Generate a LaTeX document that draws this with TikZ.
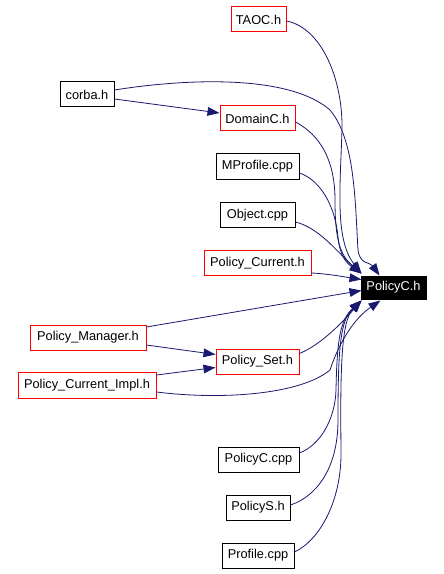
\documentclass[tikz,border=0pt]{standalone}
\usepackage{fontspec}
\setmainfont{Liberation Sans}
\usetikzlibrary{arrows.meta,calc}
\definecolor{edgeblue}{HTML}{191970}
\begin{document}
\begin{tikzpicture}[x=0.75pt,y=-0.75pt,
  box/.style={draw=black,line width=0.75pt,inner sep=0pt,minimum height=18.75pt,font=\fontsize{9.6pt}{11pt}\selectfont},
  redbox/.style={box,draw=red},
  mainbox/.style={box,fill=black,text=white,minimum height=17.25pt},
  edge/.style={draw=edgeblue,line width=0.6pt,-{Triangle[length=9pt,width=6.5pt]}}]
\useasboundingbox (0,0) rectangle (443,574);
\fill[white] (0,0) rectangle (443,574);
\node[redbox,minimum width=41.25pt] (TAOC) at (258.5,19.5) {TAOC.h};
\node[box,minimum width=40.5pt] (corba) at (87,94.5) {corba.h};
\node[redbox,minimum width=56.25pt] (DomainC) at (257.5,118.5) {DomainC.h};
\node[box,minimum width=62.25pt] (MProfile) at (257.5,166.5) {MProfile.cpp};
\node[box,minimum width=56.25pt] (Object) at (257.5,215) {Object.cpp};
\node[redbox,minimum width=80.25pt] (PCurrent) at (257.5,263) {Policy\_Current.h};
\node[mainbox,minimum width=48.75pt] (PolicyC) at (393.5,287.5) {PolicyC.h};
\node[redbox,minimum width=87pt] (PManager) at (88,337.5) {Policy\_Manager.h};
\node[redbox,minimum width=62.25pt] (PSet) at (257.5,361.5) {Policy\_Set.h};
\node[redbox,minimum width=103.5pt,minimum height=19.5pt] (PCImpl) at (87,385) {Policy\_Current\_Impl.h};
\node[box,minimum width=60.75pt] (PolicyCcpp) at (258.5,459.5) {PolicyC.cpp};
\node[box,minimum width=48pt] (PolicyS) at (258,507.5) {PolicyS.h};
\node[box,minimum width=54pt] (Profile) at (258,555.5) {Profile.cpp};
% arrow tip coordinates on PolicyC.h
\coordinate (tTL) at ($(PolicyC.north west)+(1,-2)$);
\coordinate (tPC) at ($(PolicyC.north west)+(1,4)$);
\coordinate (tPM) at ($(PolicyC.north west)+(1,15)$);
\coordinate (tBL) at ($(PolicyC.south west)+(1,1)$);
\coordinate (tTR) at ($(PolicyC.north west)+(19,0)$);
\coordinate (tBR) at ($(PolicyC.south west)+(20,1)$);
% edges
\draw[edge] ($(TAOC.east)+(0,1.5)$) .. controls (322,28) and (343,80) .. (342,130) .. controls (340,190) and (335,240) .. (tTL);
\draw[edge] ($(corba.east)+(0,-4.5)$) .. controls (190,78) and (290,75) .. (330,110) .. controls (355,140) and (355,200) .. (358,250) .. controls (360,265) and (370,262) .. (tTR);
\draw[edge] ($(corba.east)+(0,4.5)$) -- ($(DomainC.west)+(0,-5.5)$);
\draw[edge] ($(DomainC.east)+(0,3.5)$) .. controls (320,135) and (335,160) .. (335,200) .. controls (335,240) and (340,255) .. (tTL);
\draw[edge] ($(MProfile.east)+(0,6.5)$) .. controls (320,180) and (335,205) .. (338,237) .. controls (340,255) and (345,262) .. (tTL);
\draw[edge] ($(Object.east)+(0,7)$) .. controls (320,228) and (340,255) .. (tTL);
\draw[edge] ($(PCurrent.east)+(0,10)$) .. controls (330,274) and (345,277) .. (tPC);
\draw[edge] ($(PManager.east)+(0,-10.5)$) -- (tPM);
\draw[edge] ($(PManager.east)+(0,7.5)$) -- ($(PSet.west)+(0,-7)$);
\draw[edge] ($(PCImpl.east)+(0,-10)$) -- ($(PSet.west)+(0,6)$);
\draw[edge] ($(PSet.east)+(0,-8)$) .. controls (320,345) and (340,325) .. (tBL);
\draw[edge] ($(PCImpl.east)+(0,7)$) .. controls (220,400) and (300,395) .. (330,370) .. controls (340,340) and (355,318) .. (tBR);
\draw[edge] ($(PolicyCcpp.east)+(0,-6.5)$) .. controls (320,445) and (335,420) .. (336,390) .. controls (337,340) and (340,320) .. (tBL);
\draw[edge] ($(PolicyS.east)+(0,-2.5)$) .. controls (315,497) and (338,470) .. (338,420) .. controls (338,350) and (340,320) .. (tBL);
\draw[edge] ($(Profile.east)+(0,-3.5)$) .. controls (320,540) and (342,500) .. (341,450) .. controls (340,360) and (342,320) .. (tBL);
\end{tikzpicture}
\end{document}
